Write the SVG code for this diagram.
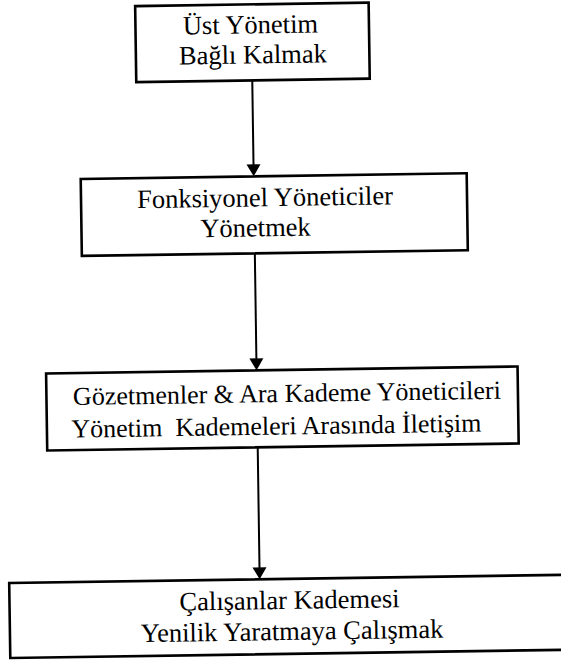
<svg xmlns="http://www.w3.org/2000/svg" width="561" height="664" viewBox="0 0 561 664">
  <style>
    .box { fill: #fff; stroke: #000; stroke-width: 2.6; }
    .lbl { font-family: "Liberation Serif", "Times New Roman", serif; font-size: 26.5px; fill: #000; text-anchor: middle; }
    .tight { font-size: 26px; }
    .edge { stroke: #000; stroke-width: 2; fill: none; }
    .head { fill: #000; }
  </style>
  <defs>
    <!-- downward arrowhead, tip at (0,0) -->
    <path id="head" class="head" d="M-7,-12 L7,-12 L0,0 Z"/>
  </defs>
  <rect width="561" height="664" fill="#fff"/>
  <!-- the whole chart sits at a slight tilt -->
  <g transform="rotate(-0.85 280 332)">
    <g id="connectors">
      <line class="edge" x1="256" y1="80" x2="256" y2="166"/>
      <use href="#head" x="256" y="176"/>
      <line class="edge" x1="256" y1="253" x2="256" y2="360"/>
      <use href="#head" x="256" y="370"/>
      <line class="edge" x1="256" y1="447" x2="256" y2="569"/>
      <use href="#head" x="256" y="579"/>
    </g>
    <g id="ust-yonetim">
      <rect class="box" x="140" y="4" width="233.5" height="76"/>
      <text class="lbl"><tspan x="255" y="33">Üst Yönetim</tspan><tspan x="257" y="63">Bağlı Kalmak</tspan></text>
    </g>
    <g id="fonksiyonel-yoneticiler">
      <rect class="box" x="83" y="176" width="386" height="77"/>
      <text class="lbl"><tspan x="267" y="206">Fonksiyonel Yöneticiler</tspan><tspan x="257" y="236">Yönetmek</tspan></text>
    </g>
    <g id="ara-kademe">
      <rect class="box" x="45.5" y="370" width="471.5" height="77"/>
      <text class="lbl tight" xml:space="preserve"><tspan x="286" y="402">Gözetmenler &amp; Ara Kademe Yöneticileri</tspan><tspan x="275" y="434.5">Yönetim  Kademeleri Arasında İletişim</tspan></text>
    </g>
    <g id="calisanlar">
      <rect class="box" x="5.5" y="579" width="600" height="75"/>
      <text class="lbl"><tspan x="285.5" y="609">Çalışanlar Kademesi</tspan><tspan x="287.5" y="640">Yenilik Yaratmaya Çalışmak</tspan></text>
    </g>
  </g>
</svg>
